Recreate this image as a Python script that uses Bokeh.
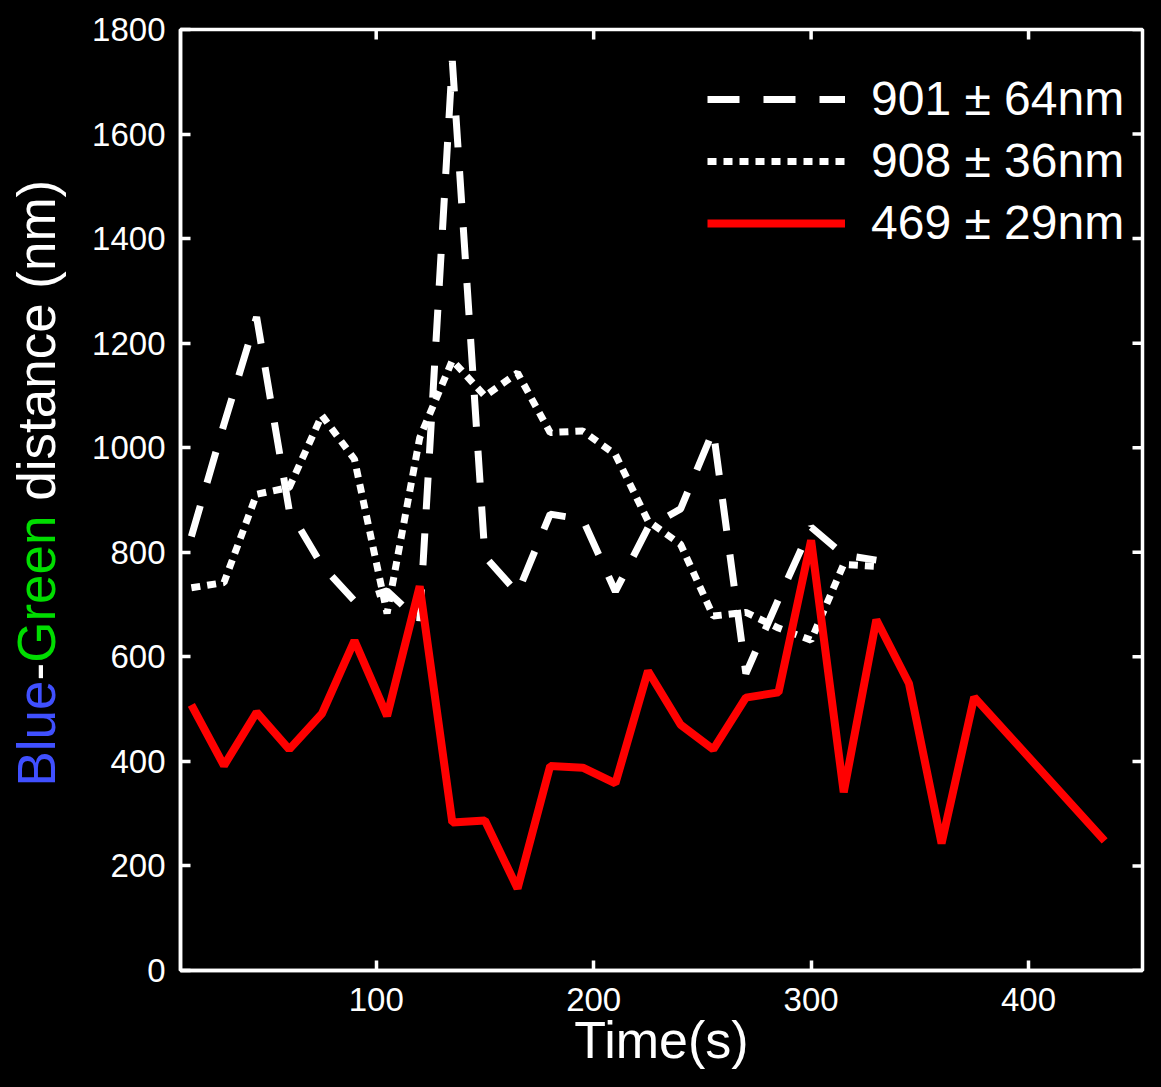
import math
from bokeh.plotting import figure
from bokeh.layouts import row
from bokeh.models import Range1d, FixedTicker, Legend, LegendItem
from bokeh.core.properties import value
from bokeh.embed import file_html
from bokeh.resources import INLINE

# ---------------- data ----------------
time_white = [15, 30, 45, 60, 75, 90, 105, 120, 135, 150, 165, 180, 195, 210,
              225, 240, 255, 270, 285, 300, 315, 330]
dist_dashed = [830, 1045, 1250, 880, 775, 707, 726, 668, 1740, 792, 722, 873,
               863, 725, 847, 883, 1033, 568, 710, 848, 795, 785]
dist_dotted = [732, 742, 911, 924, 1062, 978, 683, 1019, 1167, 1099, 1143, 1029,
               1032, 987, 860, 815, 678, 685, 655, 632, 777, 773]
time_red = [15, 30, 45, 60, 75, 90, 105, 120, 135, 150, 165, 180, 195, 210,
            225, 240, 255, 270, 285, 300, 315, 330, 345, 360, 375, 435]
dist_red = [508, 392, 494, 423, 491, 631, 487, 735, 283, 287, 157, 391, 388,
            358, 573, 470, 423, 522, 532, 823, 341, 671, 549, 243, 523, 248]
legend_labels = ["901 \u00b1 64nm", "908 \u00b1 36nm", "469 \u00b1 29nm"]
y_title_parts = ["Blue", "-", "Green", "distance (nm)"]
y_title_colors = ["#4050ff", "white", "#00dd00", "white"]
x_title = "Time(s)"
x_ticks = [100, 200, 300, 400]
y_ticks = [0, 200, 400, 600, 800, 1000, 1200, 1400, 1600, 1800]
x_lo, x_hi = 10, 452.4
y_lo, y_hi = 0, 1800

FONT = "Liberation Sans"
H = 1071
TOP, BOTTOM = 29, 101       # borders above / below the frame
LW = 70                     # strip that carries the y title
PW = 1145 - LW

# ---------------- y title strip ----------------
FH = H - TOP - BOTTOM       # frame height in pixels
lab = figure(width=LW, height=H, x_range=Range1d(0, LW), y_range=Range1d(0, FH),
             x_axis_type=None, y_axis_type=None,
             min_border_left=0, min_border_right=0,
             min_border_top=TOP, min_border_bottom=BOTTOM,
             toolbar_location=None, output_backend="svg",
             background_fill_color="black", border_fill_color="black",
             outline_line_color=None)
lab.grid.visible = False
fs = 53
em = [2.001, 0.333, 2.779, 6.057]     # advance widths (Helvetica metrics)
gap = [0, 0, 0, 0.278]                # space before "distance"
start = 786                           # canvas y where the title begins
centers = []
pos = start
for w, g in zip(em, gap):
    pos -= g * fs
    centers.append((H - BOTTOM) - (pos - w * fs / 2))
    pos -= w * fs
lab.text(x=[36] * 4, y=centers, text=y_title_parts, angle=math.pi / 2,
         text_align="center", text_baseline="middle",
         text_color=y_title_colors, text_font=value(FONT),
         text_font_size=value(f"{fs}px"))

# ---------------- main plot ----------------
p = figure(width=PW, height=H, output_backend="svg", toolbar_location=None,
           x_range=Range1d(x_lo, x_hi), y_range=Range1d(y_lo, y_hi),
           min_border_left=180 - LW, min_border_right=3, min_border_top=TOP,
           min_border_bottom=BOTTOM,
           background_fill_color="black", border_fill_color="black")
p.grid.visible = False
p.outline_line_color = "white"
p.outline_line_width = 3.5

for ax in (p.xaxis[0], p.yaxis[0]):
    ax.axis_line_color = "white"
    ax.axis_line_width = 3.5
    ax.major_tick_line_color = "white"
    ax.major_tick_line_width = 3.5
    ax.major_tick_in = 10
    ax.major_tick_out = 0
    ax.minor_tick_line_color = None
    ax.major_label_text_color = "white"
    ax.major_label_text_font = FONT
    ax.major_label_text_font_size = "33px"
p.xaxis[0].ticker = FixedTicker(ticks=x_ticks)
p.yaxis[0].ticker = FixedTicker(ticks=y_ticks)
p.xaxis[0].major_label_standoff = 17
p.yaxis[0].major_label_standoff = 15
p.xaxis[0].axis_label = x_title
p.xaxis[0].axis_label_text_color = "white"
p.xaxis[0].axis_label_text_font = FONT
p.xaxis[0].axis_label_text_font_style = "normal"
p.xaxis[0].axis_label_text_font_size = "52px"
p.xaxis[0].axis_label_standoff = -3

# mirrored inward ticks on top and right
p.ray(x=x_ticks, y=[y_hi] * len(x_ticks), length=10, length_units="screen",
      angle=-math.pi / 2, line_color="white", line_width=3.5)
p.ray(x=[x_hi] * len(y_ticks), y=y_ticks, length=10, length_units="screen",
      angle=math.pi, line_color="white", line_width=3.5)

r_dash = p.line(time_white, dist_dashed, line_color="white", line_width=7,
                line_dash="32 24")
r_dot = p.line(time_white, dist_dotted, line_color="white", line_width=7,
               line_dash="9 7")
r_red = p.line(time_red, dist_red, line_color="#ff0000", line_width=8)

legend = Legend(items=[LegendItem(label=legend_labels[0], renderers=[r_dash]),
                       LegendItem(label=legend_labels[1], renderers=[r_dot]),
                       LegendItem(label=legend_labels[2], renderers=[r_red])],
                location=(527, 720), padding=0, margin=0, spacing=7,
                glyph_width=138, glyph_height=52, label_height=52,
                label_standoff=26, label_text_color="white",
                label_text_font=FONT, label_text_font_size="48px",
                background_fill_alpha=0, border_line_color=None)
p.add_layout(legend, "center")

layout = row(lab, p, spacing=0)
html = file_html(layout, INLINE)
html = html.replace("<head>", "<head><style>body{background:#000;}</style>", 1)
open("out.html", "w").write(html)
